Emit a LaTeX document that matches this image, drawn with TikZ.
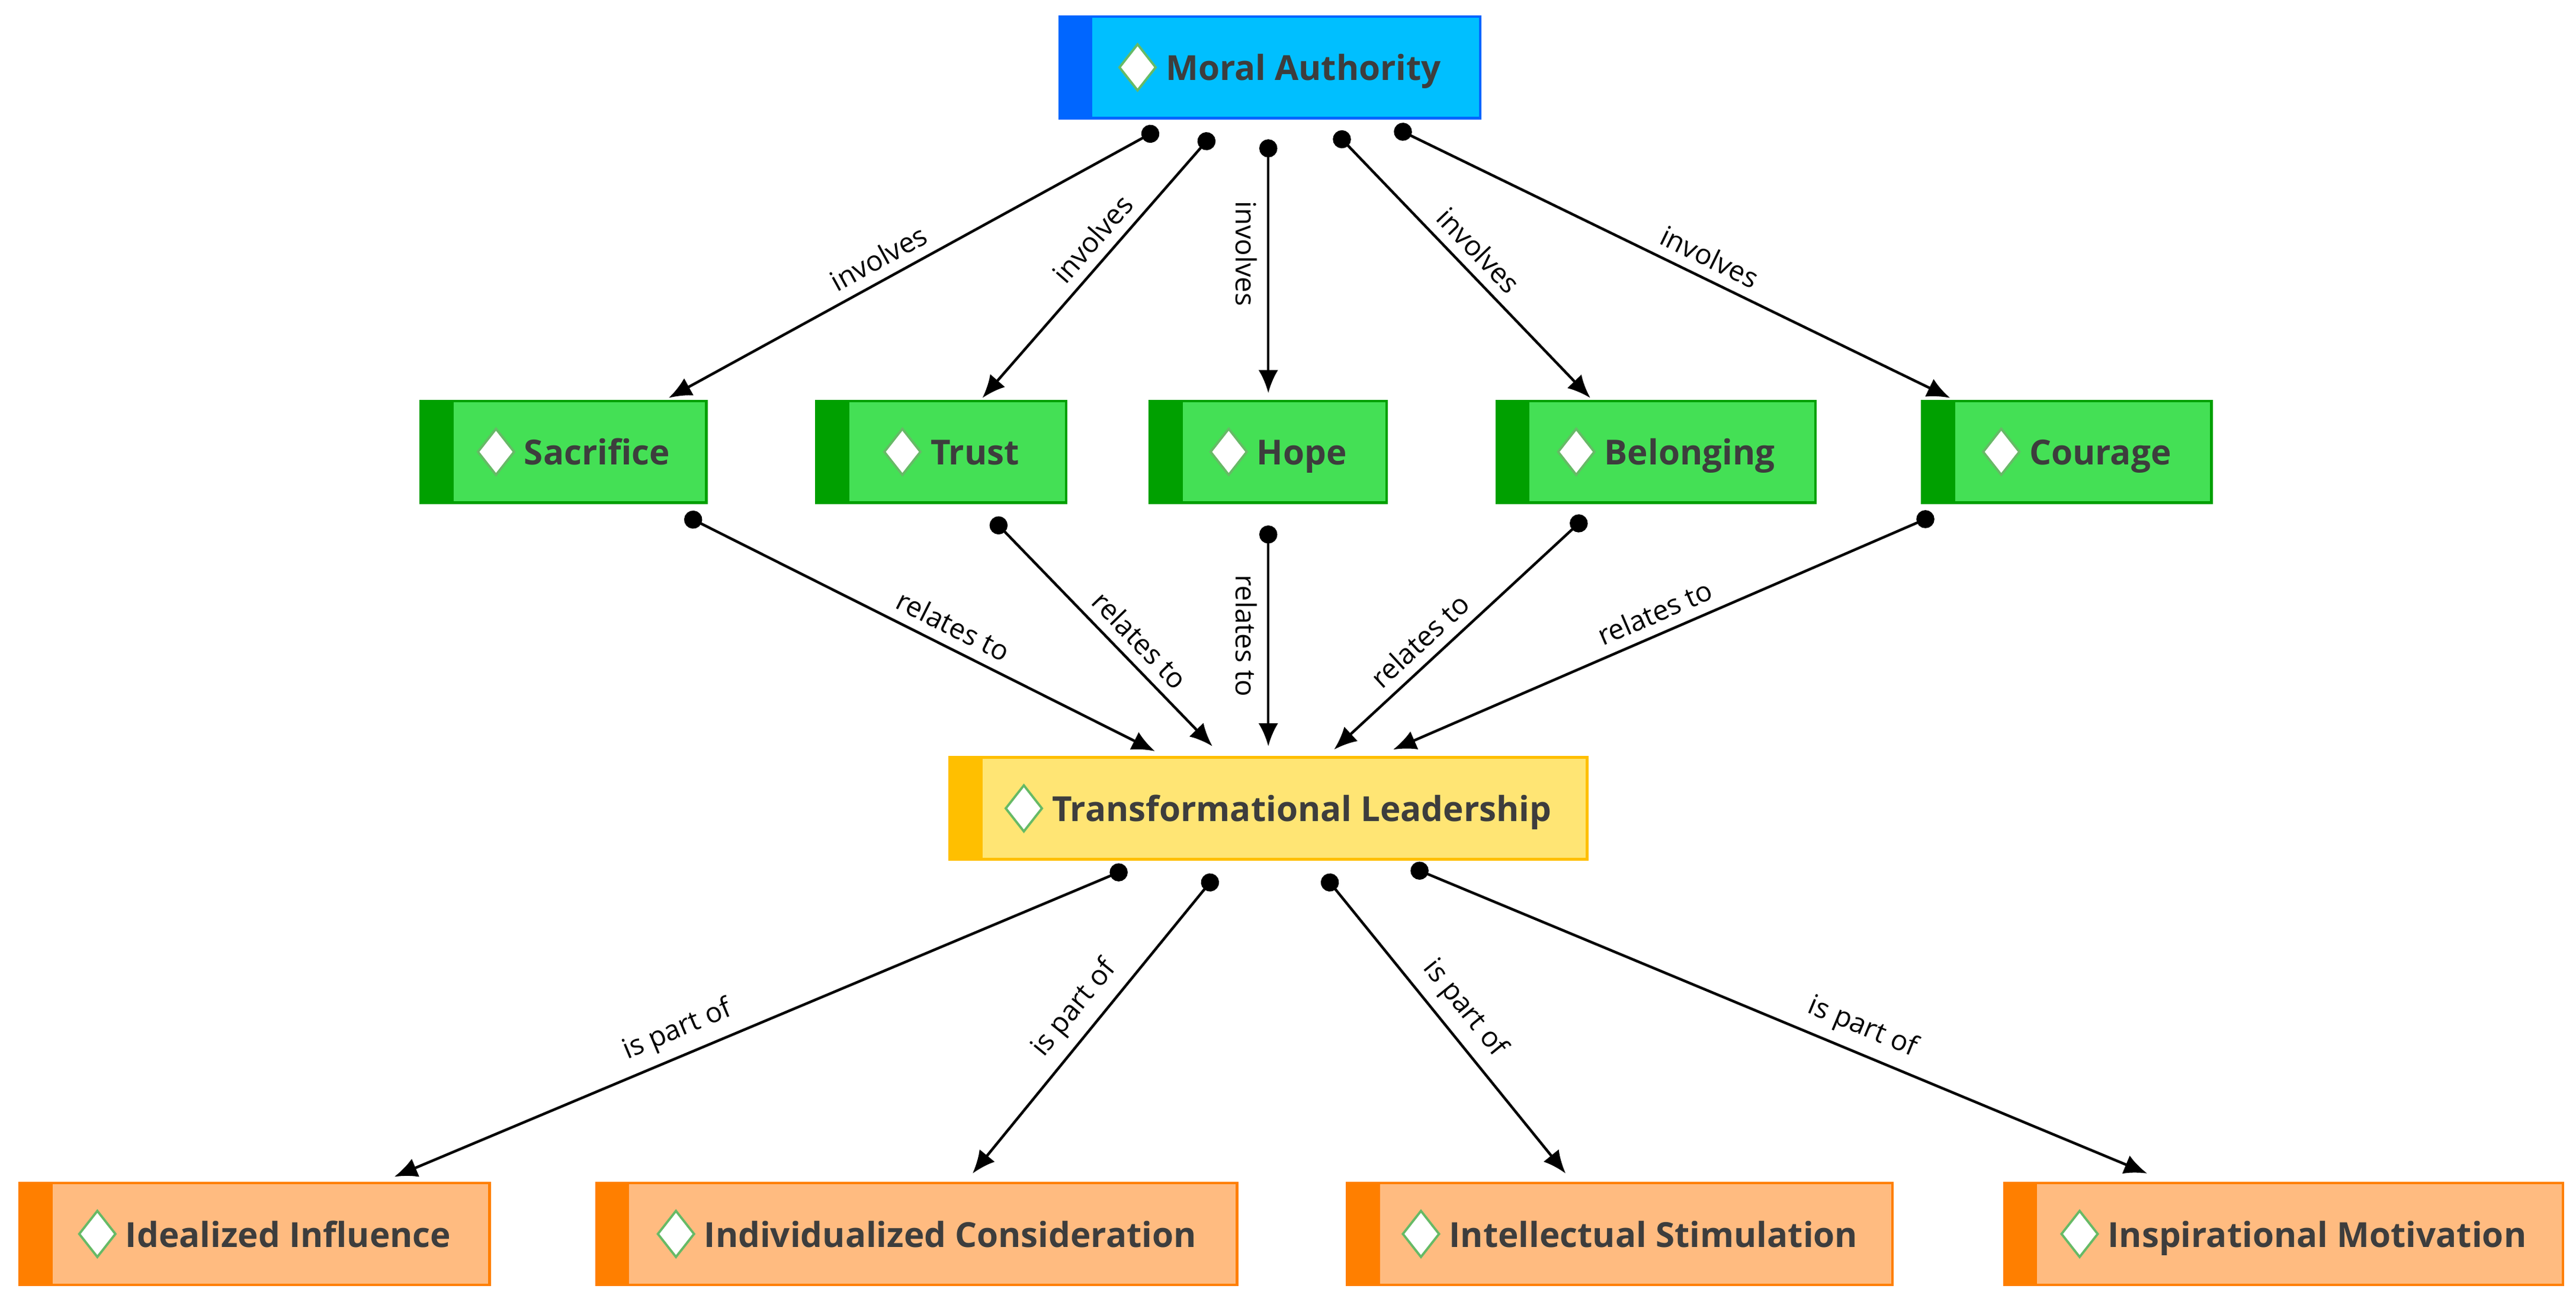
\documentclass[tikz,border=0pt]{standalone}
\usepackage{fontspec}
\setmainfont{Open Sans}
\usetikzlibrary{arrows.meta}

\definecolor{txt}{HTML}{3D3D3D}
\definecolor{bluedark}{HTML}{0066FF}
\definecolor{bluelight}{HTML}{00BFFF}
\definecolor{greendark}{HTML}{00A000}
\definecolor{greenlight}{HTML}{44E055}
\definecolor{yellowdark}{HTML}{FFBF00}
\definecolor{yellowlight}{HTML}{FFE574}
\definecolor{orangedark}{HTML}{FF7F00}
\definecolor{orangelight}{HTML}{FFBB80}

\newcommand{\icon}{\tikz[baseline=-0.7ex]\draw[green!55!black!60,fill=white,line width=0.7pt] (0,-7pt) -- (5.5pt,0) -- (0,7pt) -- (-5.5pt,0) -- cycle;}

\tikzset{
  box/.style 2 args={draw=#1, fill=#2, line width=0.8pt, minimum height=31pt,
    inner xsep=5pt, font=\bfseries\fontsize{10.5}{12.5}\selectfont, text=txt,
    path picture={\fill[#1] (path picture bounding box.south west) rectangle
      ([xshift=10pt]path picture bounding box.north west);}},
  topbox/.style={box={bluedark}{bluelight}},
  midbox/.style={box={greendark}{greenlight}},
  corebox/.style={box={yellowdark}{yellowlight}},
  partbox/.style={box={orangedark}{orangelight}},
  link/.style={line width=0.8pt, {Circle[length=5.5pt]}-{Latex[length=7pt,width=6pt]}},
  lbl/.style={sloped, above, font=\fontsize{8.5}{10}\selectfont, inner sep=3pt}
}

\begin{document}
\begin{tikzpicture}[x=0.5pt,y=-0.5pt]
\useasboundingbox (0,0) rectangle (1568,796);

\node[topbox, minimum width=128pt] (ma) at (773,41) {\hspace{6pt}\icon\ Moral Authority};

\node[midbox, minimum width=87pt] (sac) at (343,275) {\hspace{6pt}\icon\ Sacrifice};
\node[midbox, minimum width=76pt] (tru) at (573,275) {\hspace{6pt}\icon\ Trust};
\node[midbox, minimum width=72pt] (hop) at (772,275) {\hspace{6pt}\icon\ Hope};
\node[midbox, minimum width=97pt] (bel) at (1008,275) {\hspace{6pt}\icon\ Belonging};
\node[midbox, minimum width=88pt] (cou) at (1258,275) {\hspace{6pt}\icon\ Courage};

\node[corebox, minimum width=194pt] (tl) at (772,492) {\hspace{6pt}\icon\ Transformational Leadership};

\node[partbox, minimum width=143pt] (ii) at (155,751) {\hspace{6pt}\icon\ Idealized Influence};
\node[partbox, minimum width=195pt] (ic) at (558,751) {\hspace{6pt}\icon\ Individualized Consideration};
\node[partbox, minimum width=166pt] (is) at (986,751) {\hspace{6pt}\icon\ Intellectual Stimulation};
\node[partbox, minimum width=170pt] (im) at (1390,751) {\hspace{6pt}\icon\ Inspirational Motivation};

% moral authority -> values
\draw[link] ([shift={(-68,6)}]ma.south) -- node[lbl,pos=0.55]{involves} ([shift={(64,-1)}]sac.north);
\draw[link] ([shift={(-35,9)}]ma.south) -- node[lbl,pos=0.45]{involves} ([shift={(25,-1)}]tru.north);
\draw[link] ([shift={(-1,12)}]ma.south) -- node[lbl,below,pos=0.45]{involves} ([shift={(0,-4)}]hop.north);
\draw[link] ([shift={(40,8)}]ma.south) -- node[lbl,pos=0.5]{involves} ([shift={(-40,-1)}]bel.north);
\draw[link] ([shift={(76,5)}]ma.south) -- node[lbl,pos=0.55]{involves} ([shift={(-71,-1)}]cou.north);

% values -> transformational leadership
\draw[link] ([shift={(74,7)}]sac.south) -- node[lbl,pos=0.55]{relates to} ([shift={(-69,-3)}]tl.north);
\draw[link] ([shift={(31,9)}]tru.south) -- node[lbl,pos=0.6]{relates to} ([shift={(-34,-6)}]tl.north);
\draw[link] ([shift={(0,13)}]hop.south) -- node[lbl,below,pos=0.5]{relates to} ([shift={(0,-6)}]tl.north);
\draw[link] ([shift={(-43,8)}]bel.south) -- node[lbl,pos=0.6]{relates to} ([shift={(40,-4)}]tl.north);
\draw[link] ([shift={(-81,7)}]cou.south) -- node[lbl,pos=0.5]{relates to} ([shift={(76,-4)}]tl.north);

% transformational leadership -> components
\draw[link] ([shift={(-86,5)}]tl.south) -- node[lbl,pos=0.6]{is part of} ([shift={(85,-3)}]ii.north);
\draw[link] ([shift={(-32,9)}]tl.south) -- node[lbl,pos=0.5]{is part of} ([shift={(34,-5)}]ic.north);
\draw[link] ([shift={(34,9)}]tl.south) -- node[lbl,pos=0.5]{is part of} ([shift={(-33,-5)}]is.north);
\draw[link] ([shift={(87,4)}]tl.south) -- node[lbl,pos=0.6]{is part of} ([shift={(-83,-5)}]im.north);
\end{tikzpicture}
\end{document}
